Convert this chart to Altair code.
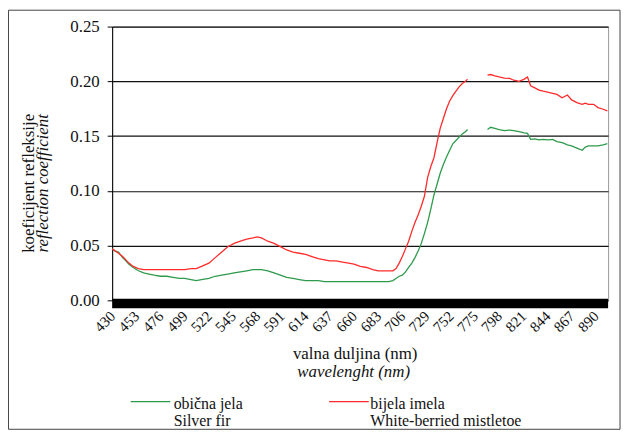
import altair as alt
import pandas as pd

# wavelengths (nm), two measured segments (gap between them)
nm_seg1 = [430, 433, 436, 440, 443, 446, 450, 455, 460, 465, 470, 476, 482, 488, 494, 499,
           505, 510, 515, 522, 528, 534, 540, 546, 552, 558, 564, 568, 572, 578, 584, 590,
           596, 602, 608, 614, 620, 626, 632, 637, 643, 649, 655, 660, 666, 672, 678, 683,
           688, 693, 697, 700, 703, 706, 709, 712, 715, 718, 721, 724, 727, 730, 733, 736,
           739, 742, 745, 748, 751, 754, 757, 760, 763, 766, 768]
fir_seg1 = [0.047, 0.045, 0.044, 0.039, 0.036, 0.033, 0.030, 0.027, 0.025, 0.024, 0.023, 0.022,
            0.022, 0.021, 0.020, 0.020, 0.019, 0.018, 0.019, 0.020, 0.022, 0.023, 0.024, 0.025,
            0.026, 0.027, 0.028, 0.028, 0.028, 0.027, 0.025, 0.023, 0.021, 0.020, 0.019, 0.018,
            0.018, 0.018, 0.017, 0.017, 0.017, 0.017, 0.017, 0.017, 0.017, 0.017, 0.017, 0.017,
            0.017, 0.017, 0.018, 0.020, 0.022, 0.023, 0.026, 0.030, 0.034, 0.039, 0.045, 0.052,
            0.061, 0.071, 0.083, 0.096, 0.106, 0.116, 0.124, 0.131, 0.137, 0.143, 0.146, 0.149,
            0.152, 0.154, 0.156]
mist_seg1 = [0.047, 0.045, 0.043, 0.040, 0.037, 0.034, 0.031, 0.029, 0.028, 0.028, 0.028, 0.028,
             0.028, 0.028, 0.028, 0.028, 0.029, 0.029, 0.031, 0.034, 0.039, 0.044, 0.049, 0.052,
             0.054, 0.056, 0.057, 0.058, 0.057, 0.054, 0.052, 0.049, 0.046, 0.044, 0.043, 0.042,
             0.040, 0.038, 0.037, 0.036, 0.036, 0.035, 0.034, 0.033, 0.031, 0.030, 0.028, 0.027,
             0.027, 0.027, 0.027, 0.029, 0.034, 0.040, 0.047, 0.054, 0.063, 0.071, 0.078, 0.086,
             0.095, 0.112, 0.122, 0.130, 0.144, 0.157, 0.166, 0.175, 0.182, 0.187, 0.191, 0.195,
             0.198, 0.200, 0.202]

nm_seg2 = [787, 790, 794, 798, 803, 808, 812, 817, 822, 825, 828, 832, 836, 840, 845, 849,
           853, 858, 863, 867, 872, 877, 880, 883, 888, 892, 897, 901]
fir_seg2 = [0.156, 0.158, 0.157, 0.156, 0.155, 0.1555, 0.155, 0.154, 0.153, 0.1525, 0.147, 0.1475,
            0.1465, 0.147, 0.1465, 0.147, 0.145, 0.144, 0.142, 0.141, 0.139, 0.137, 0.140, 0.141,
            0.141, 0.141, 0.142, 0.143]
mist_seg2 = [0.2056, 0.2062, 0.205, 0.204, 0.203, 0.2026, 0.201, 0.200, 0.202, 0.204, 0.196, 0.194,
             0.192, 0.191, 0.190, 0.189, 0.188, 0.185, 0.1875, 0.183, 0.1805, 0.179, 0.180, 0.179,
             0.179, 0.176, 0.1745, 0.173]

x_ticks = list(range(430, 891, 23))
y_ticks = [0.0, 0.05, 0.10, 0.15, 0.20, 0.25]
species = ["obična jela", "bijela imela"]
colors = ["#2e9a4c", "#ff2b2b"]

rows = []
for seg, nms, fir, mist in [("a", nm_seg1, fir_seg1, mist_seg1), ("b", nm_seg2, fir_seg2, mist_seg2)]:
    for n, f, m in zip(nms, fir, mist):
        rows.append({"nm": n, "v": f, "sp": species[0], "seg": seg})
        rows.append({"nm": n, "v": m, "sp": species[1], "seg": seg})
df = pd.DataFrame(rows)

FONT = "Liberation Serif, Times New Roman, serif"
W, H = 500, 276

lines = alt.Chart(df).mark_line(strokeWidth=1.3).encode(
    x=alt.X("nm:Q", scale=alt.Scale(domain=[430, 901.7], nice=False, zero=False),
            axis=alt.Axis(values=x_ticks, labelAngle=-45, labelAlign="right", labelBaseline="middle",
                          ticks=False, domain=False, grid=False, labelFontSize=15, labelFont=FONT,
                          labelColor="#111", labelPadding=13, title=None, labelOverlap=False)),
    y=alt.Y("v:Q", scale=alt.Scale(domain=[0, 0.25], nice=False),
            axis=alt.Axis(values=y_ticks, format=".2f", labelFontSize=17, labelFont=FONT,
                          labelColor="#111", tickSize=5, tickColor="black", domainColor="black",
                          grid=True, gridColor="#111", gridWidth=1.2, labelPadding=8, title=None)),
    color=alt.Color("sp:N", scale=alt.Scale(domain=species, range=colors), legend=None),
    detail="seg:N",
)

one = pd.DataFrame({"a": [0]})
band = alt.Chart(one).mark_rect(color="black").encode(
    x=alt.value(0), x2=alt.value(W), y=alt.value(H - 1.5), y2=alt.value(H + 8))
border = alt.Chart(one).mark_rect(fillOpacity=0, stroke="#444", strokeWidth=1).encode(
    x=alt.value(-104.5), x2=alt.value(512), y=alt.value(-16.5), y2=alt.value(406))


def txt(s, x, y, size=17, italic=False, align="left", angle=0, baseline="alphabetic"):
    kw = dict(font=FONT, fontSize=size, align=align, baseline=baseline, color="#111")
    if italic:
        kw["fontStyle"] = "italic"
    if angle:
        kw["angle"] = angle
    return alt.Chart(one).mark_text(**kw).encode(x=alt.value(x), y=alt.value(y), text=alt.value(s))


def rule(x1, x2, y, c):
    return alt.Chart(one).mark_rule(color=c, strokeWidth=1.3).encode(
        x=alt.value(x1), x2=alt.value(x2), y=alt.value(y))


texts = [
    txt("valna duljina (nm)", 245, 335.5, align="center"),
    txt("wavelenght (nm)", 243.5, 353, italic=True, align="center"),
    txt("koeficijent refleksije", -79, 158, align="center", angle=270),
    txt("reflection coefficient", -65, 158, italic=True, align="center", angle=270),
    rule(18.7, 58.7, 378, colors[0]),
    txt("obična jela", 62, 386, size=16),
    txt("Silver fir", 62, 403, size=16),
    rule(218.7, 258.7, 378, colors[1]),
    txt("bijela imela", 260.3, 386, size=16),
    txt("White-berried mistletoe", 260.3, 403, size=16),
]

chart = alt.layer(lines, band, border, *texts).properties(
    width=W, height=H,
    autosize=alt.AutoSizeParams(type="none"),
    padding={"left": 105, "top": 17, "right": 14, "bottom": 131},
).configure_view(stroke="#999", strokeWidth=1)

chart.save("out.html", embed_options={"renderer": "svg", "actions": False})
